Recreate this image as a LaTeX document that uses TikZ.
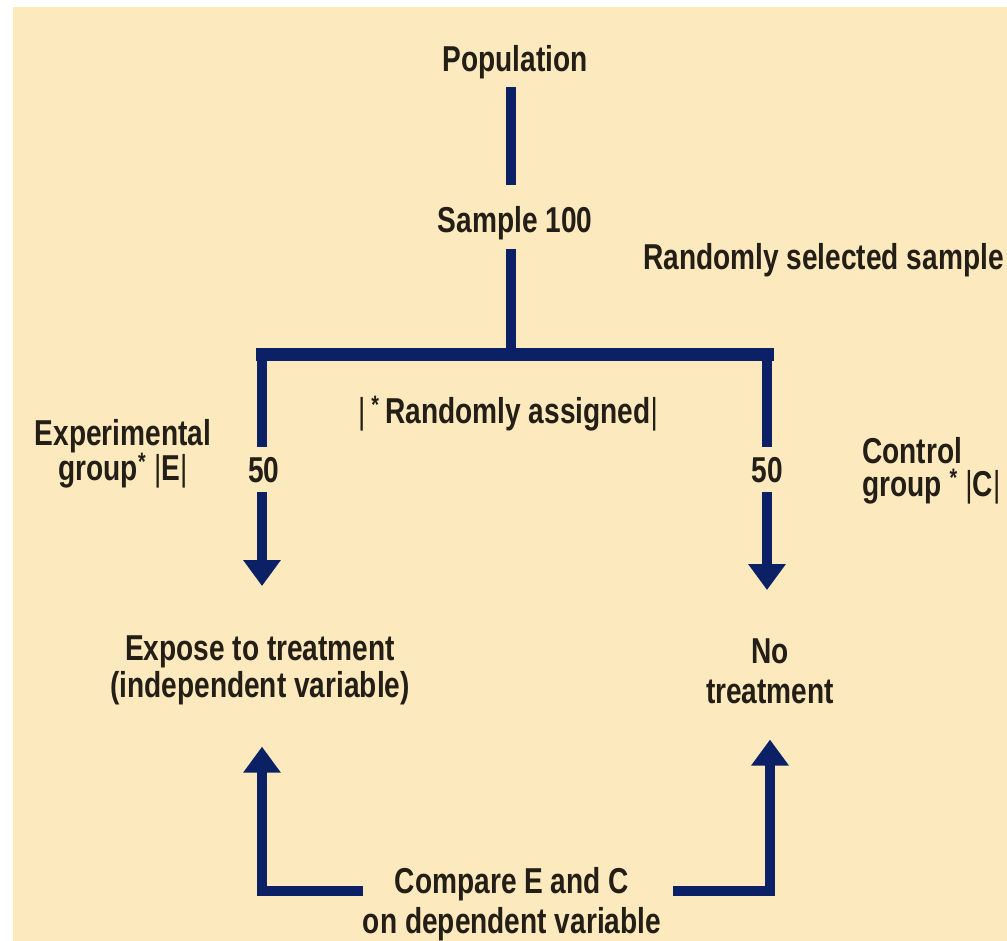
\documentclass[tikz,border=0pt]{standalone}
\usepackage{fontspec}
\setmainfont{Liberation Sans}[FakeStretch=0.78]
\usetikzlibrary{arrows.meta}

\definecolor{paper}{RGB}{252,233,190}
\definecolor{navy}{RGB}{12,32,102}
\definecolor{ink}{RGB}{35,30,22}

\begin{document}
\begin{tikzpicture}[x=1pt, y=-1pt,
      every node/.style={font=\fontsize{36}{37}\selectfont\bfseries, text=ink,
        inner sep=0pt, align=center, anchor=base},
      flow/.style={draw=navy, line width=10pt},
      tip/.style={-{Triangle[width=36pt, length=26pt]}},
      count/.style={fill=paper, inner xsep=3pt, inner ysep=10pt}]
    \clip (0,0) rectangle (1007,941);
    \fill[white] (0,0) rectangle (1007,941);
    \fill[paper] (13,7) rectangle (1007,941);

    % sampling
    \node (pop) at (515,72) {Population};
    \node (sample) at (515,233) {Sample 100};
    \node[anchor=base west] (selected) at (643,270) {Randomly selected sample};
    \coordinate (split) at (511,355);
    \coordinate (eknee) at (262,355);
    \coordinate (cknee) at (767,355);

    % groups (base = last line)
    \node (assign) at (508,423) {{\mdseries|}\,\textsuperscript{*}\,Randomly assigned{\mdseries|}};
    \node[font=\fontsize{36}{32}\selectfont\bfseries] (expgrp) at (123,480)
      {Experimental\\group\textsuperscript{*} {\mdseries|}E{\mdseries|}};
    \node[anchor=base west, align=left, font=\fontsize{36}{33}\selectfont\bfseries] (ctlgrp) at (862,496)
      {Control\\group \textsuperscript{*} {\mdseries|}C{\mdseries|}};

    % outcomes
    \node[font=\fontsize{36}{37}\selectfont\bfseries] (expose) at (260,697)
      {Expose to treatment\\(independent variable)};
    \node[font=\fontsize{36}{40}\selectfont\bfseries] (notreat) at (770,703) {No\\treatment};
    \node[font=\fontsize{36}{40}\selectfont\bfseries] (compare) at (512,933)
      {Compare E and C\\on dependent variable};
    \coordinate (cmpL) at (363,891);
    \coordinate (cmpR) at (673,891);

    \draw[flow, shorten <=7pt, shorten >=22pt] (pop.south -| split) -- (sample.north -| split);
    \draw[flow, shorten <=8pt] (sample.south -| split) -- (split);
    \draw[flow, line width=13pt, line cap=rect] (eknee) -- (cknee);
    \draw[flow, tip, shorten >=49pt] (eknee) -- (eknee |- expose.north);
    \draw[flow, tip, shorten >=48pt] (cknee) -- (cknee |- notreat.north);
    \node[count] (n50e) at (264,482) {50};
    \node[count] (n50c) at (767,482) {50};

    \draw[flow, tip, shorten >=42pt] (cmpL) -| ([xshift=2pt]expose.south);
    \draw[flow, tip, shorten >=36pt] (cmpR) -| (notreat.south);
\end{tikzpicture}
\end{document}
